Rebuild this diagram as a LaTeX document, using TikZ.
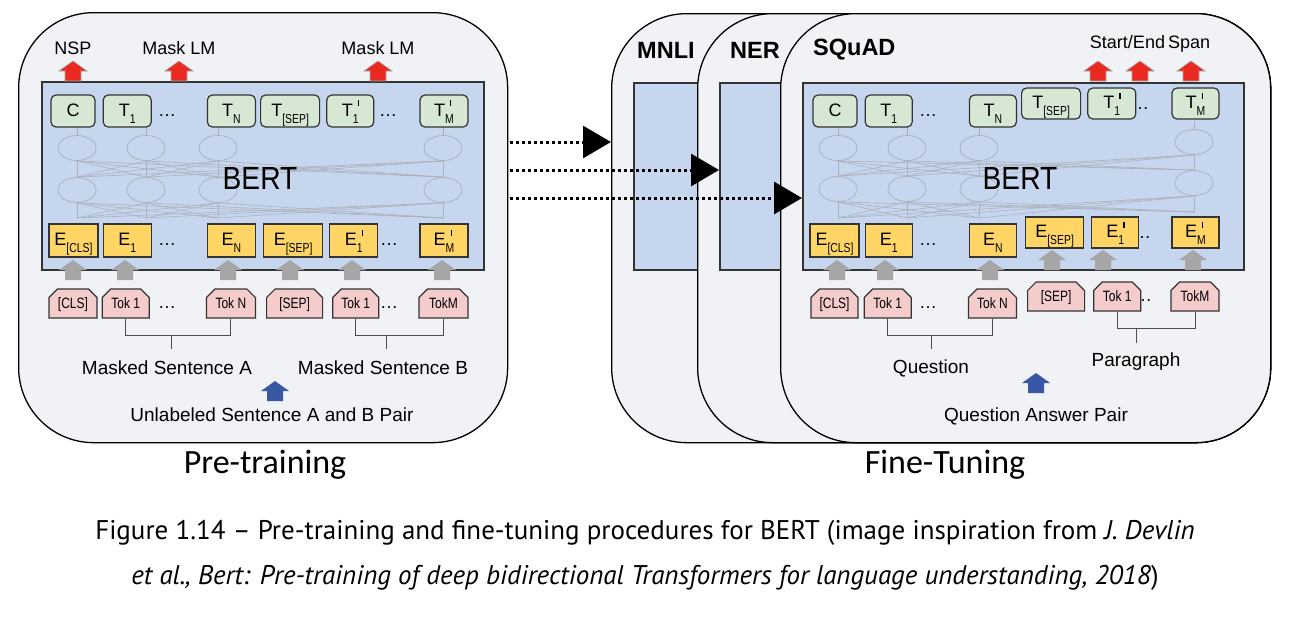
\documentclass[tikz,border=0pt]{standalone}
\usepackage{fontspec}
\setmainfont{Liberation Sans}
\newfontfamily\narrowfont[FakeStretch=0.8]{Liberation Sans}
\newfontfamily\bertfont[FakeStretch=0.88]{Liberation Sans}
\newfontfamily\titlefont{Carlito}
\newfontfamily\capfont{PT Sans}
\usepackage{tikz}
\usetikzlibrary{positioning,shapes.misc,shapes.geometric,arrows.meta}

\definecolor{cardgray}{RGB}{241,242,245}
\definecolor{bertblue}{RGB}{198,214,238}
\definecolor{tgreen}{RGB}{214,232,212}
\definecolor{eyellow}{RGB}{255,214,102}
\definecolor{tokpink}{RGB}{244,204,204}
\definecolor{outred}{RGB}{234,41,33}
\definecolor{ingray}{RGB}{166,166,166}
\definecolor{pairblue}{RGB}{56,87,165}
\definecolor{wiregray}{RGB}{172,178,188}
\definecolor{edgegray}{RGB}{51,51,51}

% symbol with subscript, and the primed variant
\newcommand{\tlab}[2]{#1\raisebox{-0.4em}{\narrowfont\fontsize{13}{13}\selectfont#2}}
\newcommand{\tlabp}[2]{#1\makebox[0pt][l]{\hspace{5pt}\raisebox{10pt}{\rule{1.2pt}{6pt}}}\raisebox{-0.4em}{\narrowfont\fontsize{13}{13}\selectfont#2}}

\begin{document}
\begin{tikzpicture}[x=1pt,y=-1pt,
    uparrow/.pic={\path[pic actions] (-8,0) -- (-8,-10) -- (-14,-10) -- (0,-20) -- (14,-10) -- (8,-10) -- (8,0) -- cycle;}]
    \tikzstyle{card}=[draw=black, line width=1.3pt, fill=cardgray, rounded corners=75pt, anchor=north west, inner sep=0pt]
    \tikzstyle{bert}=[draw=edgegray, line width=1.6pt, fill=bertblue, anchor=north west, inner sep=0pt]
    \tikzstyle{tout}=[rectangle, rounded corners=5pt, draw=edgegray, line width=1.2pt, fill=tgreen, minimum height=32pt, inner sep=0pt, text height=14pt, text depth=4pt, font=\fontsize{18}{20}\selectfont]
    \tikzstyle{emb}=[rectangle, draw=edgegray, line width=1.2pt, fill=eyellow, minimum height=33pt, inner sep=0pt, text height=14pt, text depth=4pt, font=\fontsize{18}{20}\selectfont]
    \tikzstyle{tok}=[chamfered rectangle, chamfered rectangle corners={north west,north east}, chamfered rectangle xsep=5pt, draw=edgegray, line width=1.2pt, fill=tokpink, minimum height=29pt, inner sep=0pt, text height=11pt, text depth=2pt, font=\narrowfont\fontsize{15}{16}\selectfont]
    \tikzstyle{unit}=[ellipse, draw=wiregray, line width=0.8pt, minimum width=38pt, minimum height=25pt, inner sep=0pt]
    \tikzstyle{wire}=[draw=wiregray, line width=0.6pt]
    \tikzstyle{dots}=[inner sep=0pt, text height=14pt, text depth=4pt, font=\fontsize{18}{20}\selectfont]
    \tikzstyle{lbl}=[inner sep=0pt, font=\fontsize{19}{22}\selectfont]
    \tikzstyle{head}=[inner sep=0pt, font=\fontsize{18}{20}\selectfont]
    \tikzstyle{task}=[inner sep=0pt, anchor=west, font=\bfseries\fontsize{23.5}{26}\selectfont]
    \tikzstyle{stage}=[inner sep=0pt, font=\titlefont\fontsize{34}{38}\selectfont]
    \tikzstyle{brace}=[draw=black!70, line width=1pt]
    \tikzstyle{transfer}=[line width=3pt, dash pattern=on 3pt off 3pt, -{Triangle[length=28pt,width=32pt]}]
    \tikzstyle{redarr}=[fill=outred, draw=gray!70, line width=0.6pt]
    \tikzstyle{grayarr}=[fill=ingray]
    \tikzstyle{bluearr}=[fill=pairblue]

    \useasboundingbox (0,0) rectangle (1295,616);
    \fill[white] (0,0) rectangle (1295,616);

    % ---- pre-training
    \node[card, minimum width=489pt, minimum height=430pt] (pre) at (18,12) {};
    \node[bert, minimum width=442pt, minimum height=188pt] (prebert) at (41,81) {};
    \foreach \x [count=\i] in {77,146,218,443} {
      \coordinate (ptop\i) at (\x,127);
      \coordinate (pbot\i) at (\x,218);
      \node[unit] (pha\i) at (\x,148) {};
      \node[unit] (phb\i) at (\x,190) {};
      \draw[wire] (ptop\i) -- (pha\i.north) (pha\i.south) -- (phb\i.north) (phb\i.south) -- (pbot\i);
    }
    \foreach \i in {1,...,4} \foreach \j in {1,...,4} {
      \draw[wire] (pha\i.south) -- (phb\j.north);
      \draw[wire] (phb\i.south) -- (pbot\j);
    }
    \node[font=\bertfont\fontsize{32}{34}\selectfont] (pbertlbl) at (260,178) {BERT};

    \node[tout, minimum width=44pt] (pc) at (73,111) {C};
    \node[tout, minimum width=48pt, right=7pt of pc] (pt1) {\tlab{T}{1}};
    \node[tout, minimum width=48pt, right=55pt of pt1] (ptn) {\tlab{T}{N}};
    \node[tout, minimum width=59pt, right=4pt of ptn] (ptsep) {\tlab{T}{[SEP]}};
    \node[tout, minimum width=47pt, right=6pt of ptsep] (pt1b) {\tlabp{T}{1}};
    \node[tout, minimum width=48pt, right=45pt of pt1b] (ptm) {\tlabp{T}{M}};
    \node[dots] (pdt1) at (167,111) {\ldots};
    \node[dots] (pdt2) at (388,111) {\ldots};

    \node[emb, minimum width=49pt] (pecls) at (73.5,240.5) {\tlab{E}{[CLS]}};
    \node[emb, minimum width=48pt, right=4pt of pecls] (pe1) {\tlab{E}{1}};
    \node[emb, minimum width=48pt, right=55pt of pe1] (pen) {\tlab{E}{N}};
    \node[emb, minimum width=59pt, right=7pt of pen] (pesep) {\tlab{E}{[SEP]}};
    \node[emb, minimum width=48pt, right=6pt of pesep] (pe1b) {\tlabp{E}{1}};
    \node[emb, minimum width=48pt, right=41pt of pe1b] (pem) {\tlabp{E}{M}};
    \node[dots] (pde1) at (167,240.5) {\ldots};
    \node[dots] (pde2) at (389,240.5) {\ldots};

    \node[tok, minimum width=48pt] (pkcls) at (73,303.5) {[CLS]};
    \node[tok, minimum width=47pt, right=4pt of pkcls] (pk1) {Tok 1};
    \node[tok, minimum width=49pt, right=56pt of pk1] (pkn) {Tok N};
    \node[tok, minimum width=56pt, right=10pt of pkn] (pksep) {[SEP]};
    \node[tok, minimum width=46pt, right=9pt of pksep] (pk1b) {Tok 1};
    \node[tok, minimum width=49pt, right=39pt of pk1b] (pkm) {TokM};
    \node[dots] (pdk1) at (167,303.5) {\ldots};
    \node[dots] (pdk2) at (389,303.5) {\ldots};

    \foreach \x in {73,179,378} \pic[redarr] at (\x,81) {uparrow};
    \foreach \x in {73,125,228,290,352,442} \pic[grayarr] at (\x,280) {uparrow};
    \pic[bluearr] at (275,401) {uparrow};

    \coordinate (sa1) at (171,335);
    \coordinate (sa2) at (171,349);
    \coordinate (sb1) at (386,335);
    \coordinate (sb2) at (386,349);
    \draw[brace] (pk1.south) -- ++(0,17) -| (pkn.south);
    \draw[brace] (pk1b.south) -- ++(0,17) -| (pkm.south);
    \draw[brace] (sa1) -- (sa2) (sb1) -- (sb2);

    \node[head] (nsp) at (73,48) {NSP};
    \node[head] (mlm1) at (179,48) {Mask LM};
    \node[head] (mlm2) at (378,48) {Mask LM};
    \node[lbl] (senta) at (167,368) {Masked Sentence A};
    \node[lbl] (sentb) at (383,368) {Masked Sentence B};
    \node[lbl] (pair) at (272,415) {Unlabeled Sentence A and B Pair};
    \node[stage] (pretrain) at (265,465) {Pre-training};

    % ---- fine-tuning
    \node[card, minimum width=659pt, minimum height=429pt] (mnli) at (611,13) {};
    \node[bert, minimum width=610pt, minimum height=187pt] (mnlibert) at (633,82) {};
    \node[card, minimum width=573pt, minimum height=429pt] (ner) at (697,13) {};
    \node[bert, minimum width=524pt, minimum height=187pt] (nerbert) at (719,82) {};
    \node[card, minimum width=490pt, minimum height=429pt] (squad) at (780,13) {};
    \node[bert, minimum width=441pt, minimum height=187pt] (sqbert) at (802,82) {};
    \node[task] (mnlilbl) at (637,50) {MNLI};
    \node[task] (nerlbl) at (730,50) {NER};
    \node[task] (squadlbl) at (813,50) {SQuAD};

    \foreach \x/\d [count=\i] in {838/0,907/0,979/0,1194/-6} {
      \coordinate (stop\i) at (\x,127+\d);
      \coordinate (sbot\i) at (\x,218+\d);
      \node[unit] (sha\i) at (\x,148+\d) {};
      \node[unit] (shb\i) at (\x,189+\d) {};
      \draw[wire] (stop\i) -- (sha\i.north) (sha\i.south) -- (shb\i.north) (shb\i.south) -- (sbot\i);
    }
    \foreach \i in {1,...,4} \foreach \j in {1,...,4} {
      \draw[wire] (sha\i.south) -- (shb\j.north);
      \draw[wire] (shb\i.south) -- (sbot\j);
    }
    \node[font=\bertfont\fontsize{32}{34}\selectfont] (sbertlbl) at (1020,178) {BERT};

    \node[dots] (sdt2) at (1140,104) {\ldots};
    \node[dots] (sde2) at (1142,233) {\ldots};
    \node[dots] (sdk2) at (1143,296.5) {\ldots};

    \node[tout, minimum width=44pt] (sc) at (835,111) {C};
    \node[tout, minimum width=47pt, right=7pt of sc] (st1) {\tlab{T}{1}};
    \node[tout, minimum width=47pt, right=56pt of st1] (stn) {\tlab{T}{N}};
    \node[tout, minimum width=59pt, minimum height=31pt, right=4pt of stn, yshift=7.5pt] (stsep) {\tlab{T}{[SEP]}};
    \node[tout, minimum width=48pt, minimum height=31pt, right=6pt of stsep] (st1b) {\tlabp{T}{1}};
    \node[tout, minimum width=47pt, minimum height=31pt, right=35pt of st1b] (stm) {\tlabp{T}{M}};
    \node[dots] (sdt1) at (928,111) {\ldots};

    \node[emb, minimum width=49pt] (secls) at (834.5,240.5) {\tlab{E}{[CLS]}};
    \node[emb, minimum width=47pt, right=5pt of secls] (se1) {\tlab{E}{1}};
    \node[emb, minimum width=47pt, right=56pt of se1] (sen) {\tlab{E}{N}};
    \node[emb, minimum width=58pt, minimum height=31pt, right=8pt of sen, yshift=8pt] (sesep) {\tlab{E}{[SEP]}};
    \node[emb, minimum width=47pt, minimum height=31pt, right=7pt of sesep] (se1b) {\tlabp{E}{1}};
    \node[emb, minimum width=47pt, minimum height=31pt, right=32pt of se1b] (sem) {\tlabp{E}{M}};
    \node[dots] (sde1) at (928,240.5) {\ldots};

    \node[tok, minimum width=47pt] (skcls) at (834.5,303.5) {[CLS]};
    \node[tok, minimum width=47pt, right=5pt of skcls] (sk1) {Tok 1};
    \node[tok, minimum width=48pt, right=56pt of sk1] (skn) {Tok N};
    \node[tok, minimum width=57pt, right=10pt of skn, yshift=7pt] (sksep) {[SEP]};
    \node[tok, minimum width=47pt, right=8pt of sksep] (sk1b) {Tok 1};
    \node[tok, minimum width=48pt, right=29pt of sk1b] (skm) {TokM};
    \node[dots] (sdk1) at (928,303.5) {\ldots};

    \foreach \x in {1098,1140,1191} \pic[redarr] at (\x,81) {uparrow};
    \foreach \x in {837,885,990} \pic[grayarr] at (\x,280) {uparrow};
    \foreach \x in {1052,1103,1193} \pic[grayarr] at (\x,270) {uparrow};
    \pic[bluearr] at (1036,393) {uparrow};

    \coordinate (qa1) at (931,335);
    \coordinate (qa2) at (931,349);
    \coordinate (pg1) at (1136,328);
    \coordinate (pg2) at (1136,343);
    \draw[brace] (sk1.south) -- ++(0,17) -| (skn.south);
    \draw[brace] (sk1b.south) -- ++(0,17) -| (skm.south);
    \draw[brace] (qa1) -- (qa2) (pg1) -- (pg2);

    \node[head] (span) at (1150,44) {Start/End\,Span};
    \node[lbl] (quest) at (931,368) {Question};
    \node[lbl] (para) at (1136,362) {Paragraph};
    \node[lbl] (qapair) at (1036,416) {Question Answer Pair};
    \node[stage] (finetune) at (945,465) {Fine-Tuning};

    % ---- transfer arrows
    \coordinate (src1) at (510,142);
    \coordinate (src2) at (510,170);
    \coordinate (src3) at (510,198);
    \draw[transfer] (src1) -- (src1 -| mnli.west);
    \draw[transfer] (src2) -- (src2 -| nerbert.west);
    \draw[transfer] (src3) -- (src3 -| sqbert.west);

    \node[align=center, font=\capfont\fontsize{27}{45}\selectfont] (caption) at (645,555)
      {Figure 1.14 – Pre-training and fine-tuning procedures for BERT (image inspiration from \textit{J. Devlin}\\
       \textit{et al., Bert: Pre-training of deep bidirectional Transformers for language understanding, 2018})};
\end{tikzpicture}
\end{document}
